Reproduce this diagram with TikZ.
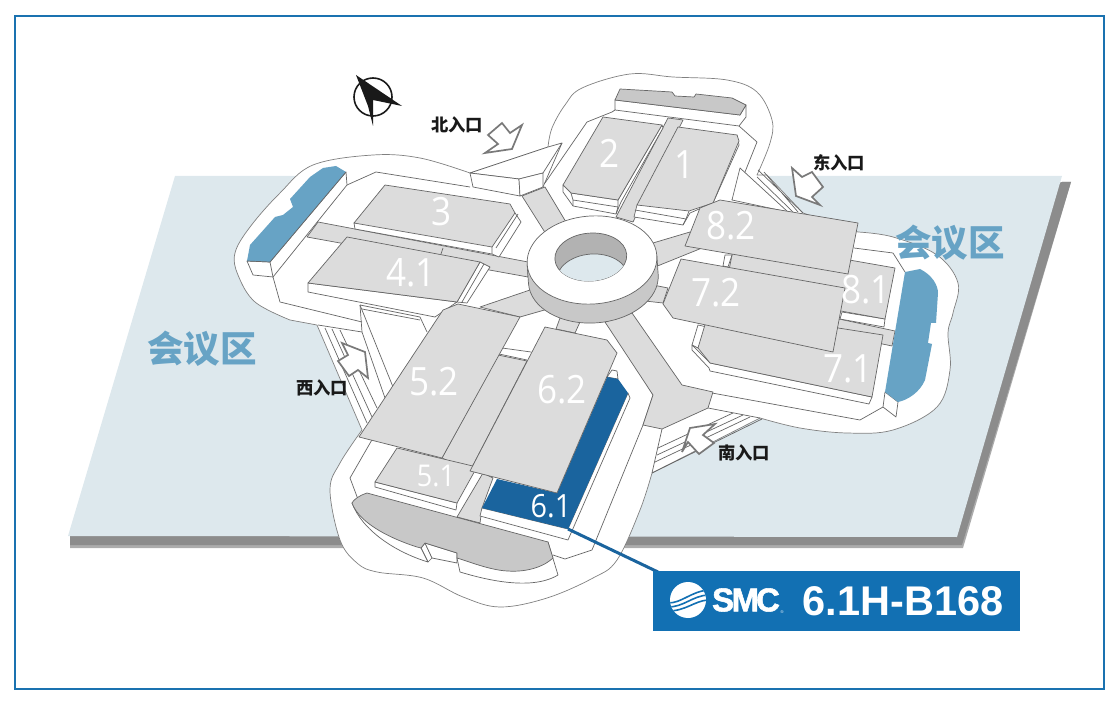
\documentclass[tikz,border=0pt]{standalone}
\usepackage{fontspec}
\usepackage{xcolor}
\usetikzlibrary{arrows.meta, positioning}
\setmainfont{Liberation Sans}
\newfontfamily\cjkfont{Noto Sans CJK SC}
\newfontfamily\hallfont{Open Sans}
\newfontfamily\smcfont[FakeBold=1.6]{Liberation Sans Bold}
\definecolor{frameblue}{HTML}{1A72B0}
\definecolor{boxblue}{HTML}{1270B3}
\definecolor{darkhall}{HTML}{1A649E}
\definecolor{lobbyblue}{HTML}{67A3C5}
\definecolor{plate}{HTML}{DDE8ED}
\definecolor{hallgrey}{HTML}{DCDCDC}
\definecolor{lobbygrey}{HTML}{C8C8C8}
\definecolor{edgegrey}{HTML}{666666}
\begin{document}
\begin{tikzpicture}[
    x=1pt, y=-1pt,
    edge/.style={draw=edgegrey, line width=0.7pt, line join=round},
    face/.style={edge, fill=white},
    road/.style={edge, fill=hallgrey},
    hall/.style={edge, fill=hallgrey},
    lobby/.style={edge, fill=lobbygrey},
    bluelobby/.style={edge, fill=lobbyblue},
    entry/.style={draw=gray!95!black, line width=1.7pt, fill=white, miter limit=8},
    halllabel/.style={text=white, inner sep=0pt, xscale=.9, transform shape, font=\hallfont\fontsize{39}{39}\selectfont},
    gatelabel/.style={text=black!90, inner sep=0pt, font=\cjkfont\bfseries\fontsize{17.3}{17.3}\selectfont},
    zonelabel/.style={text=lobbyblue, inner sep=0pt, font=\cjkfont\bfseries\fontsize{36.5}{36.5}\selectfont}
]
    \useasboundingbox (0,0) rectangle (1120,703);
    \draw[frameblue, line width=2pt] (15,16) rectangle (1104,689);

    % ground plate
    \fill[gray!65] (1062,182) -- (1071,182) -- (963,548) -- (70,548) -- (70,536) -- cycle;
    \fill[gray!90] (1062,182) -- (1071,182) -- (962,545) -- (70,545) -- (70,536) -- cycle;
    \fill[plate] (175,176) -- (1062,176) -- (957,537) -- (68,536) -- cycle;

    % footprint of the whole building
    \draw[face, draw=gray]
        plot[smooth, tension=.6] coordinates {(548,147) (552,128) (565,105) (582,88) (630,74) (673,77) (727,80) (757,92) (772,120) (770,143) (757,175)}
        -- (767,175) -- (803,213)
        -- plot[smooth, tension=.6] coordinates {(858,232) (893,237) (937,255) (958,283) (953,313) (948,333) (950,370) (937,407) (893,430) (847,433) (800,428) (760,418)}
        -- plot[smooth, tension=.6] coordinates {(652,473) (640,510) (617,560) (593,578) (547,598) (500,607) (463,597) (423,578) (377,572) (357,563) (340,540) (330,490) (340,463) (362,430)}
        -- (317,325)
        -- plot[smooth, tension=.6] coordinates {(290,320) (255,302) (238,275) (235,253) (250,227) (280,193) (313,165) (373,155) (420,158) (470,173)}
        -- cycle;
    % wing bands
    \draw[edge] (545,183) -- (587,122) -- (612,112) -- (615,110);
    \draw[edge] (739,126) -- (757,142) -- (743,177) -- (732,200);
    \draw[edge] (347,185) -- (376,172) -- (470,187);
    \draw[edge] (273,277) -- (280,302) -- (362,322);
    \draw[edge] (854,248) -- (893,253) -- (905,272);
    \draw[edge] (712,393) -- (860,420) -- (883,407);
    \draw[edge] (708,408) -- (760,418);
    \draw[edge] (632,360) -- (653,395) -- (643,425) -- (592,550) -- (565,559) -- (553,555);
    \draw[edge] (373,438) -- (350,478) -- (362,510);
    \draw[edge] (662,429) -- (652,473);

    % roads
    \filldraw[road] (668,118) -- (683,120) -- (633,222) -- (616,217) -- cycle;
    \filldraw[road] (522,196) -- (545,187) -- (566,222) -- (546,234) -- cycle;
    \filldraw[road] (318,222) -- (307,237) -- (528,277) -- (528,262) -- cycle;
    \draw[edge] (443,248) -- (441,254);
    \filldraw[road] (480,307) -- (530,290) -- (555,307) -- (520,317) -- cycle;
    \filldraw[road] (560,318) -- (580,322) -- (575,333) -- (556,329) -- cycle;
    \filldraw[road] (605,322) -- (632,313) -- (682,385) -- (713,392) -- (708,408) -- (662,429) -- (643,425) -- (653,395) -- cycle;
    \filldraw[road] (653,243) -- (690,232) -- (702,248) -- (655,267) -- cycle;
    \filldraw[road] (653,285) -- (668,288) -- (663,303) -- (645,301) -- cycle;
    \filldraw[road] (498,355) -- (527,361) -- (470,471) -- (442,458) -- cycle;
    \filldraw[road] (483,473) -- (493,478) -- (482,508) -- (480,523) -- (457,517) -- cycle;
    \draw[edge] (502,348) -- (531,352) (499,354) -- (527,360);
    \filldraw[road] (839,319) -- (895,331) -- (892,346) -- (835,334) -- cycle;

    % entry steps
    \draw[edge] (757,177) -- (793,212) (758,170) -- (803,213) (764,172) -- (798,212);
    \filldraw[face] (732,200) -- (740,168) -- (788,212) -- cycle;
    \draw[edge] (652,473) -- (762,419) (655,462) -- (750,417) (657,455) -- (743,415) (658,448) -- (733,413);
    \draw[edge] (318,325) -- (362,332);
    \draw[edge] (325,328) -- (367,423) (332,329) -- (372,417) (340,330) -- (377,408);
    \draw[edge] (362,332) -- (385,398) (360,305) -- (362,332);
    \draw[edge] (360,305) -- (393,387);
    \draw[edge] (360,305) -- (420,317) -- (427,332);
    \draw[edge] (362,309) -- (420,320);

    % north wedge
    \filldraw[face] (470,173) -- (548,147) -- (562,143) -- (543,173) -- (519,179) -- cycle;
    \filldraw[face] (470,173) -- (473,187) -- (520,196) -- (519,179) -- cycle;
    \filldraw[face] (519,179) -- (543,173) -- (543,187) -- (520,196) -- cycle;
    \draw[edge] (562,143) -- (543,187);

    % lobbies
    \filldraw[face] (615,100) -- (615,110) -- (739,126) -- (746,117) -- (746,105) -- (740,115) -- cycle;
    \filldraw[lobby] (620,89) -- (672,92) -- (675,96) -- (694,97) -- (696,94) -- (732,98) -- (746,105) -- (740,115) -- (615,100) -- cycle;
    \filldraw[face] (247,261) -- (253,275) -- (273,277) -- (347,185) -- (346,172) -- (270,262) -- cycle;
    \draw[edge] (270,262) -- (273,277);
    \filldraw[bluelobby, draw=none] (336,166) -- (346,172) -- (270,262) -- (247,261) -- (250,245) -- (275,217) -- (283,215) -- (293,207) -- (290,199) -- (310,177) -- (323,168) -- cycle;
    \draw[bluelobby, fill=none] (346,172) -- (270,262) -- (247,261);
    \filldraw[face] (885,392) -- (883,407) -- (896,417) -- (898,402) -- cycle;
    \filldraw[bluelobby, draw=none] (905,272) -- (920,269) .. controls (932,275) and (938,285) .. (938,293) -- (936,323) -- (931,323) -- (928,343) -- (932,344) -- (925,380) .. controls (920,392) and (908,400) .. (898,402) -- (885,392) -- cycle;
    \filldraw[face] (425,543) -- (421,548) -- (428,562) -- (432,558) -- cycle;
    \filldraw[face] (352,503) .. controls (362,530) and (395,552) .. (428,562) -- (421,548) -- cycle;
    \filldraw[face] (425,543) -- (457,553) -- (457,563) -- (432,558) -- cycle;
    \filldraw[face] (457,558) -- (460,572) .. controls (480,578) and (530,592) .. (558,575) -- (548,542) -- cycle;
    \filldraw[lobby] (367,493) -- (548,542) -- (553,558) .. controls (540,570) and (520,572) .. (507,571) .. controls (490,570) and (470,562) .. (457,558) -- (457,553) -- (425,543) -- (421,548) -- (417,547) .. controls (395,540) and (360,525) .. (352,503) .. controls (353,500) and (360,495) .. (367,493) -- cycle;

    % halls
    \filldraw[face] (563,185) -- (563,192) -- (573,206) -- (616,214) -- (621,202) -- (663,128) -- (662,125) -- (618,200) -- (571,193) -- cycle;
    \draw[edge] (571,193) -- (573,200) -- (618,207) (573,200) -- (573,206) (618,207) -- (616,214) (618,200) -- (618,207);
    \filldraw[hall] (603,117) -- (662,125) -- (618,200) -- (571,193) -- (563,185) -- cycle;
    \filldraw[face] (637,205) -- (634,217) -- (683,225) -- (690,213) -- (713,203) -- (739,145) -- (737,135) -- cycle;
    \draw[edge] (635,210) -- (686,219) (683,225) -- (686,219) -- (689,211);
    \filldraw[hall] (678,127) -- (737,135) -- (739,141) -- (713,203) -- (689,211) -- (637,205) -- cycle;
    \filldraw[face] (354,223) -- (355,229) -- (492,254) -- (499,257) -- (521,222) -- (515,213) -- cycle;
    \draw[edge] (492,247) -- (492,254) (496,248) -- (518,214);
    \filldraw[hall] (385,185) -- (510,204) -- (515,213) -- (492,247) -- (354,223) -- cycle;
    \filldraw[face] (308,283) -- (308,292) -- (435,317) -- (457,302) -- cycle;
    \filldraw[face] (480,262) -- (490,267) -- (467,303) -- (457,302) -- cycle;
    \draw[edge] (484,264) -- (462,302);
    \filldraw[hall] (347,237) -- (480,262) -- (457,302) -- (308,283) -- cycle;

    \filldraw[face] (375,482) -- (375,487) -- (456,510) -- (457,503) -- cycle;
    \filldraw[hall] (397,448) -- (375,482) -- (457,503) -- (477,467) -- cycle;
    \filldraw[face] (482,508) -- (480,516) -- (568,540) -- (630,398) -- (628,393) -- (568,529) -- cycle;
    \filldraw[face] (612,370) -- (617,371) -- (618,379) -- (607,377) -- cycle;
    \fill[darkhall] (497,479) -- (557,493) -- (607,377) -- (618,379) -- (628,393) -- (568,529) -- (482,508) -- cycle;
    \filldraw[hall] (545,327) -- (607,340) -- (617,353) -- (557,493) -- (470,471) -- cycle;
    \filldraw[hall] (443,310) -- (458,304) -- (520,317) -- (442,458) -- (359,437) -- cycle;

    \filldraw[face] (692,345) -- (692,350) -- (709,368) -- (710,371) -- (869,404) -- (872,397) -- (710,363) -- cycle;
    \filldraw[face] (698,325) -- (707,327) -- (698,348) -- (692,345) -- cycle;
    \filldraw[hall] (710,308) -- (883,335) -- (872,397) -- (710,363) -- (698,348) -- cycle;
    \filldraw[face] (842,312) -- (840,319) -- (884,327) -- (885,319) -- cycle;
    \filldraw[hall] (735,240) -- (895,268) -- (885,319) -- (725,290) -- cycle;
    \filldraw[face] (725,255) -- (732,255) -- (728,267) -- (723,266) -- cycle;
    \filldraw[hall] (681,259) -- (845,288) -- (833,352) -- (673,318) -- (663,304) -- cycle;
    \filldraw[hall] (700,208) -- (720,200) -- (858,223) -- (848,274) -- (685,246) -- cycle;

    % central ring
    \begin{scope}[shift={(592,260)}, rotate=4]
        \filldraw[edge, fill=lobbygrey] (-65,0) -- (-65,19) arc[start angle=180, end angle=0, x radius=65, y radius=44] -- (65,0) -- cycle;
        \filldraw[face] (0,0) ellipse[x radius=65, y radius=44];
        \filldraw[edge, fill=gray!60] (-1,-3) ellipse[x radius=36, y radius=24];
        \begin{scope}
            \clip (-1,-3) ellipse[x radius=36, y radius=24];
            \filldraw[edge, fill=plate] (-1,19) ellipse[x radius=36, y radius=25];
        \end{scope}
    \end{scope}

    % entry arrows
    \filldraw[entry] (485,153) -- (512,149) -- (522,125) -- (510,133) -- (502,123) -- (488,135) -- (498,144) -- cycle;
    \filldraw[entry] (792,168) -- (802,177) -- (812,172) -- (823,187) -- (812,197) -- (820,205) -- (796,196) -- cycle;
    \filldraw[entry] (342,343) -- (365,352) -- (368,378) -- (358,370) -- (349,376) -- (338,361) -- (348,355) -- cycle;
    \filldraw[entry] (715,424) -- (703,435) -- (714,443) -- (699,454) -- (688,442) -- (682,452) -- (690,428) -- cycle;

    % compass
    \draw[black!90, line width=1.6pt] (373,97) circle[radius=19];
    \fill[black!90] (356,75) -- (402,106) -- (373,100) -- (373,126) -- (368,106) -- cycle;

    % labels
    \node[halllabel] (hallone) at (685,165) {1};
    \node[halllabel] (halltwo) at (610,153) {2};
    \node[halllabel] (hallthree) at (442,212) {3};
    \node[halllabel] (hallfourone) at (411,273) {4.1};
    \node[halllabel] (hallfivetwo) at (434,382) {5.2};
    \node[halllabel, font=\hallfont\fontsize{30}{30}\selectfont] (hallfiveone) at (436,476) {5.1};
    \node[halllabel] (hallsixtwo) at (562,390) {6.2};
    \node[halllabel, font=\hallfont\fontsize{32}{32}\selectfont] (hallsixone) at (551,506) {6.1};
    \node[halllabel] (hallseventwo) at (716,293) {7.2};
    \node[halllabel] (hallsevenone) at (848,369) {7.1};
    \node[halllabel] (halleightone) at (866,290) {8.1};
    \node[halllabel] (halleighttwo) at (731,226) {8.2};

    \node[gatelabel] (gatenorth) at (457,125) {北入口};
    \node[gatelabel] (gateeast) at (839,163) {东入口};
    \node[gatelabel] (gatewest) at (322,388) {西入口};
    \node[gatelabel] (gatesouth) at (744,453) {南入口};
    \node[zonelabel] (zoneleft) at (202,349) {会议区};
    \node[zonelabel] (zoneright) at (950,243) {会议区};

    % booth callout
    \coordinate (hallcorner) at (568,529);
    \coordinate (boothstart) at (658,572);
    \draw[darkhall, line width=3pt] (hallcorner) -- (boothstart);
    \node[fill=boxblue, minimum width=367pt, minimum height=60pt, inner sep=0pt] (boothbox) at (836.5,601) {};
    \fill[white] (688,600) circle[radius=18];
    \begin{scope}
        \clip (688,600) circle[radius=18];
        \draw[boxblue, line width=1.6pt] (668,603) .. controls (682,603) and (690,592) .. (708,590);
        \draw[boxblue, line width=1.6pt] (668,607) .. controls (684,607) and (692,596) .. (708,595);
        \draw[boxblue, line width=1.6pt] (668,611) .. controls (686,611) and (694,601) .. (708,600);
    \end{scope}
    \node[text=white, inner sep=0pt, font=\smcfont\fontsize{33}{33}\selectfont] (smcname) at (746,600) {S\kern-2.5pt M\kern-3pt C};
    \node[text=white, inner sep=0pt, font=\fontsize{4}{4}\selectfont] (smcmark) at (782,612) {®};
    \node[text=white, inner sep=0pt, font=\bfseries\fontsize{41.5}{41.5}\selectfont] (boothname) at (903,601) {6.1H-B168};
\end{tikzpicture}
\end{document}
